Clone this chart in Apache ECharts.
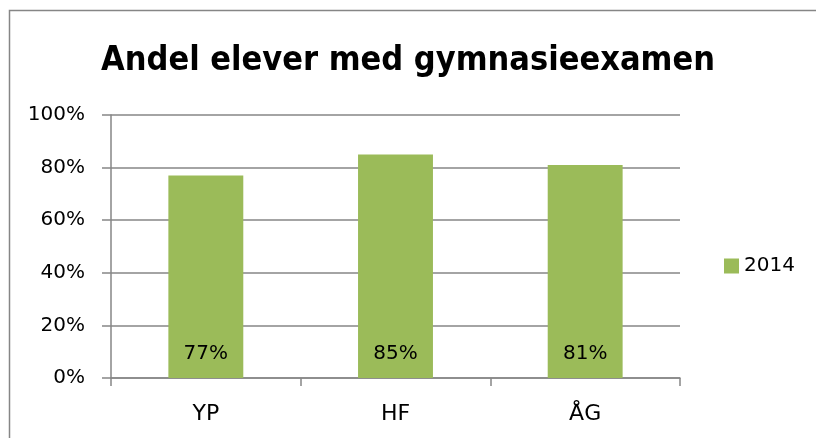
<!DOCTYPE html>
<html>
<head>
<meta charset="utf-8">
<script src="https://cdn.jsdelivr.net/npm/echarts@6/dist/echarts.min.js"></script>
<style>html,body{margin:0;padding:0;background:#fff;}#c{width:816px;height:438px;}</style>
</head>
<body>
<div id="c"></div>
<script>
const titleText = 'Andel elever med gymnasieexamen';
const categories = ['YP', 'HF', 'ÅG'];
const seriesName = '2014';
const values = [77, 85, 81];
const yTicks = [0, 20, 40, 60, 80, 100];

const chart = echarts.init(document.getElementById('c'), null, {renderer: 'canvas'});
const FONT = '"DejaVu Sans", sans-serif';
chart.setOption({
  animation: false,
  backgroundColor: '#fff',
  title: {
    text: titleText,
    left: 'center',
    top: 39,
    textStyle: {fontFamily: '"DejaVu Sans Condensed", sans-serif', fontWeight: 'bold', fontSize: 34, color: '#000'}
  },
  graphic: [{
    type: 'polyline', silent: true,
    shape: {points: [[9.5, 438], [9.5, 10.5], [816, 10.5]]},
    style: {fill: 'none', stroke: '#868686', lineWidth: 1.5}
  }],
  legend: {
    data: [seriesName],
    left: 724, top: 256, padding: 0,
    itemWidth: 15, itemHeight: 15, itemGap: 5,
    icon: 'rect',
    textStyle: {fontFamily: FONT, fontSize: 20, color: '#000'}
  },
  grid: {left: 111, right: 136, top: 115, bottom: 60},
  xAxis: {
    type: 'category',
    data: categories,
    axisLine: {lineStyle: {color: '#868686', width: 1.5}},
    axisTick: {show: true, length: 8, lineStyle: {color: '#868686', width: 1.5}},
    axisLabel: {fontFamily: FONT, fontSize: 22, color: '#000', margin: 25}
  },
  yAxis: {
    type: 'value',
    min: yTicks[0], max: yTicks[yTicks.length - 1], interval: 20,
    axisLine: {show: true, lineStyle: {color: '#868686', width: 1.5}},
    axisTick: {show: true, length: 9, lineStyle: {color: '#868686', width: 1.5}},
    splitLine: {show: true, lineStyle: {color: '#868686', width: 1.5}},
    axisLabel: {fontFamily: FONT, fontSize: 20, color: '#000', margin: 26, formatter: '{value}%'}
  },
  series: [{
    name: seriesName,
    type: 'bar',
    data: values,
    barWidth: '39.5%',
    itemStyle: {color: '#9BBB59'},
    label: {
      show: true, position: 'insideBottom', distance: 14,
      fontFamily: FONT, fontSize: 20, color: '#000',
      formatter: '{c}%'
    }
  }]
});
</script>
</body>
</html>
